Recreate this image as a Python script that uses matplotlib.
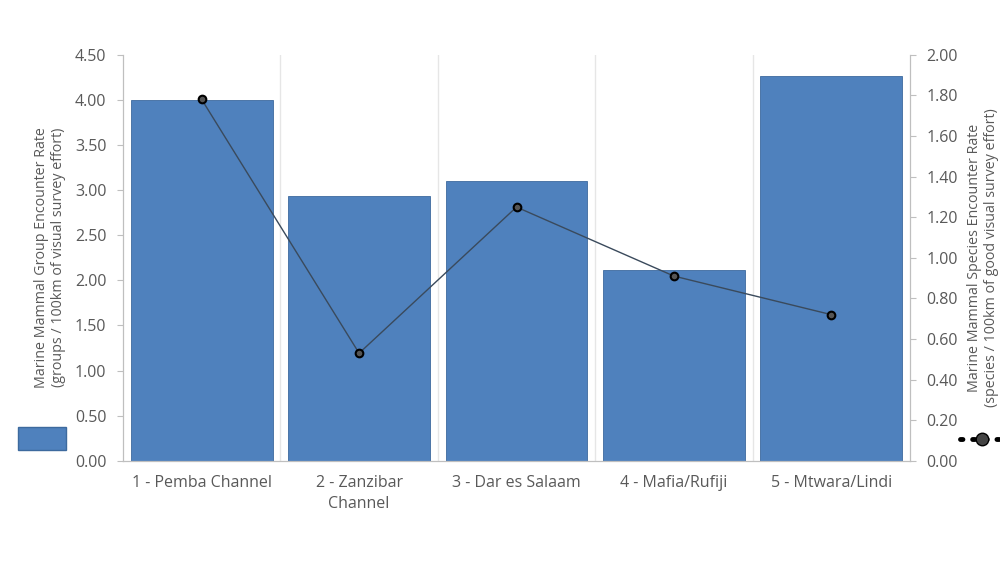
import numpy as np
import matplotlib.pyplot as plt
from matplotlib.lines import Line2D
from matplotlib.patches import Patch

plt.rcParams['font.family'] = ['Open Sans', 'DejaVu Sans']

# Encounter rates per survey region
regiones = ['1 - Pemba Channel', '2 - Zanzibar\nChannel', '3 - Dar es Salaam',
            '4 - Mafia/Rufiji', '5 - Mtwara/Lindi']
grupos = [4.00, 2.93, 3.10, 2.11, 4.27]      # groups / 100km
especies = [1.78, 0.53, 1.25, 0.91, 0.72]    # species / 100km

gris = '#595959'
azul = '#4F81BD'

fig = plt.figure(figsize=(10, 5.71), dpi=100)
ax = fig.add_axes([0.123, 0.193, 0.787, 0.711])
x = np.arange(len(regiones))

ax.bar(x, grupos, width=0.9, color=azul, edgecolor='#3d6a9e', linewidth=0.6, zorder=2)
ax.set_xlim(-0.5, len(regiones) - 0.5)
ax.set_ylim(0, 4.5)
ax.set_yticks(np.arange(0, 4.51, 0.5))
ax.set_yticklabels([f'{v:.2f}' for v in np.arange(0, 4.51, 0.5)])
ax.set_xticks(x)
ax.set_xticklabels(regiones, linespacing=1.45)

# separadores verticales entre regiones
ax.set_xticks(np.arange(0.5, len(regiones) - 0.5, 1), minor=True)
ax.grid(axis='x', which='minor', color='#e6e6e6', linewidth=1, zorder=0)
ax.tick_params(axis='x', which='both', length=0, labelsize=11.5, colors=gris, pad=10)
ax.tick_params(axis='y', length=4, color='#bfbfbf', labelsize=11.5, labelcolor=gris, pad=8)

ax.spines['top'].set_visible(False)
for lado in ['left', 'bottom', 'right']:
    ax.spines[lado].set_color('#bfbfbf')

ax.set_ylabel('Marine Mammal Group Encounter Rate\n(groups / 100km of visual survey effort)',
              fontsize=10.3, color=gris, labelpad=6)

ax2 = ax.twinx()
ax2.plot(x, especies, color='#3a4a5c', linewidth=1, marker='o', markersize=5.5,
         markerfacecolor='#555555', markeredgecolor='black', markeredgewidth=1.5, zorder=3)
ax2.set_ylim(0, 2.0)
ax2.set_yticks(np.arange(0, 2.01, 0.2))
ax2.set_yticklabels([f'{v:.2f}' for v in np.arange(0, 2.01, 0.2)])
ax2.tick_params(axis='y', length=4, color='#bfbfbf', labelsize=11.5, labelcolor=gris, pad=8)
ax2.spines['top'].set_visible(False)
for lado in ['left', 'bottom', 'right']:
    ax2.spines[lado].set_color('#bfbfbf')
ax2.set_ylabel('Marine Mammal Species Encounter Rate\n(species / 100km of good visual survey effort)',
               fontsize=10.3, color=gris, labelpad=6)

# leyendas sin texto a los lados
fig.legend(handles=[Patch(facecolor=azul, edgecolor='#3d6a9e')], labels=[''],
           loc='center', bbox_to_anchor=(0.042, 0.232), frameon=False,
           handlelength=3.4, handleheight=2.2, handletextpad=0)
fig.legend(handles=[Line2D([], [], color='black', linestyle=(0, (0.5, 2.0)), linewidth=3.5,
                           dash_capstyle='round', marker='o', markersize=9,
                           markerfacecolor='#444444', markeredgecolor='black')],
           labels=[''], loc='center', bbox_to_anchor=(0.982, 0.228), frameon=False,
           handlelength=3.2, handletextpad=0)

fig.savefig('out.png', dpi=100, facecolor='white')
